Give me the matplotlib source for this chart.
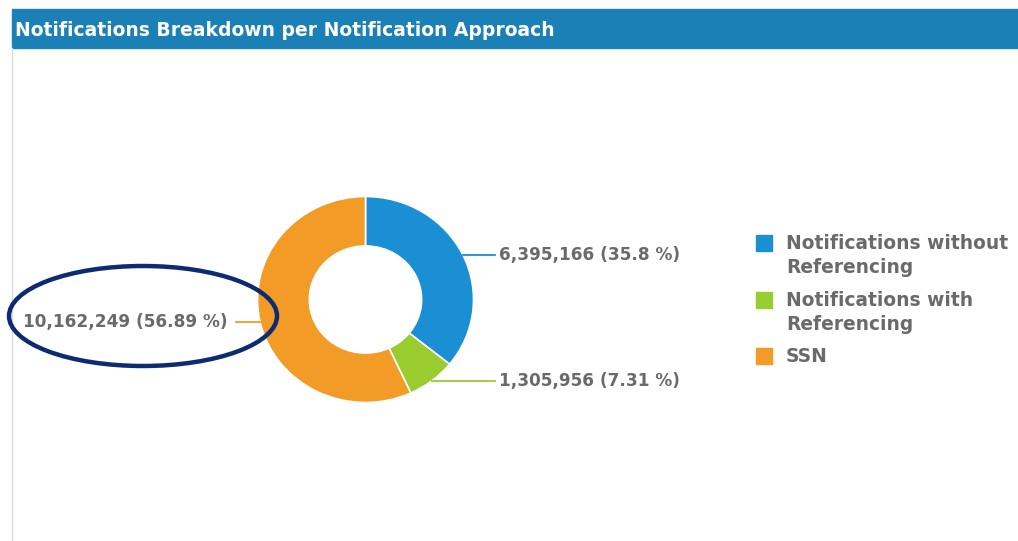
import numpy as np
from matplotlib import pyplot as plt
from matplotlib.patches import Rectangle, Ellipse

title = 'Notifications Breakdown per Notification Approach'
categories = ['Notifications without\nReferencing', 'Notifications with\nReferencing', 'SSN']
values = [6395166, 1305956, 10162249]
pct_labels = ['35.8 %', '7.31 %', '56.89 %']
colors = ['#1a8fd4', '#99cc2e', '#f39b27']

W, H = 1018, 541
fig = plt.figure(figsize=(W / 100, H / 100), dpi=100)

# donut (slightly wider than tall, like the source)
cx, cy, rx, ry = 365.5, 299.5, 108, 103
ax2 = fig.add_axes([(cx - rx) / W, (H - cy - ry) / H, 2 * rx / W, 2 * ry / H])
wedges, _ = ax2.pie(values, colors=colors, startangle=90, counterclock=False,
                    radius=1, wedgeprops=dict(width=0.48, edgecolor='white', linewidth=1.2))
ax2.set_xlim(-1, 1)
ax2.set_ylim(-1, 1)
ax2.set_aspect('auto')
ax2.axis('off')

# overlay axes in pixel units (drawn on top of the donut)
ax = fig.add_axes([0, 0, 1, 1])
ax.set_xlim(0, W)
ax.set_ylim(0, H)
ax.axis('off')
ax.set_zorder(3)

# header bar and left panel border
ax.add_patch(Rectangle((12, H - 48), W - 12, 39, color='#1a80b6', zorder=1))
ax.plot([12, 12], [0, H - 48], color='#dddddd', lw=1)
ax.text(15, H - 30, title, color='white', fontsize=13.5, fontweight='bold',
        va='center', ha='left')

# value labels with leader lines
for w, v, p, c in zip(wedges, values, pct_labels, colors):
    ang = np.deg2rad((w.theta1 + w.theta2) / 2)
    x0 = cx + rx * np.cos(ang)
    y0 = (H - cy) + ry * np.sin(ang)
    txt = '{:,} ({})'.format(v, p)
    if np.cos(ang) >= 0:
        ax.plot([x0, 495], [y0, y0], color=c, lw=1.3)
        ax.text(499, y0, txt, ha='left', va='center', color='#6a6a6a',
                fontsize=12.2, fontweight='bold')
    else:
        ax.plot([236, x0], [y0, y0], color=c, lw=1.3)
        ax.text(228, y0, txt, ha='right', va='center', color='#6a6a6a',
                fontsize=12.2, fontweight='bold')

# highlight ellipse
ax.add_patch(Ellipse((143, H - 316), 268, 100, fill=False,
                     edgecolor='#0c2b70', lw=3.2, zorder=5))

# legend
leg_y = [H - 243, H - 300, H - 356]
for cat, c, y in zip(categories, colors, leg_y):
    ax.add_patch(Rectangle((756, y - 8), 16, 16, color=c))
    ax.text(786, y + 9, cat, ha='left', va='top', color='#6a6a6a',
            fontsize=13.4, fontweight='bold', linespacing=1.35)

plt.savefig('out.png', dpi=100)
